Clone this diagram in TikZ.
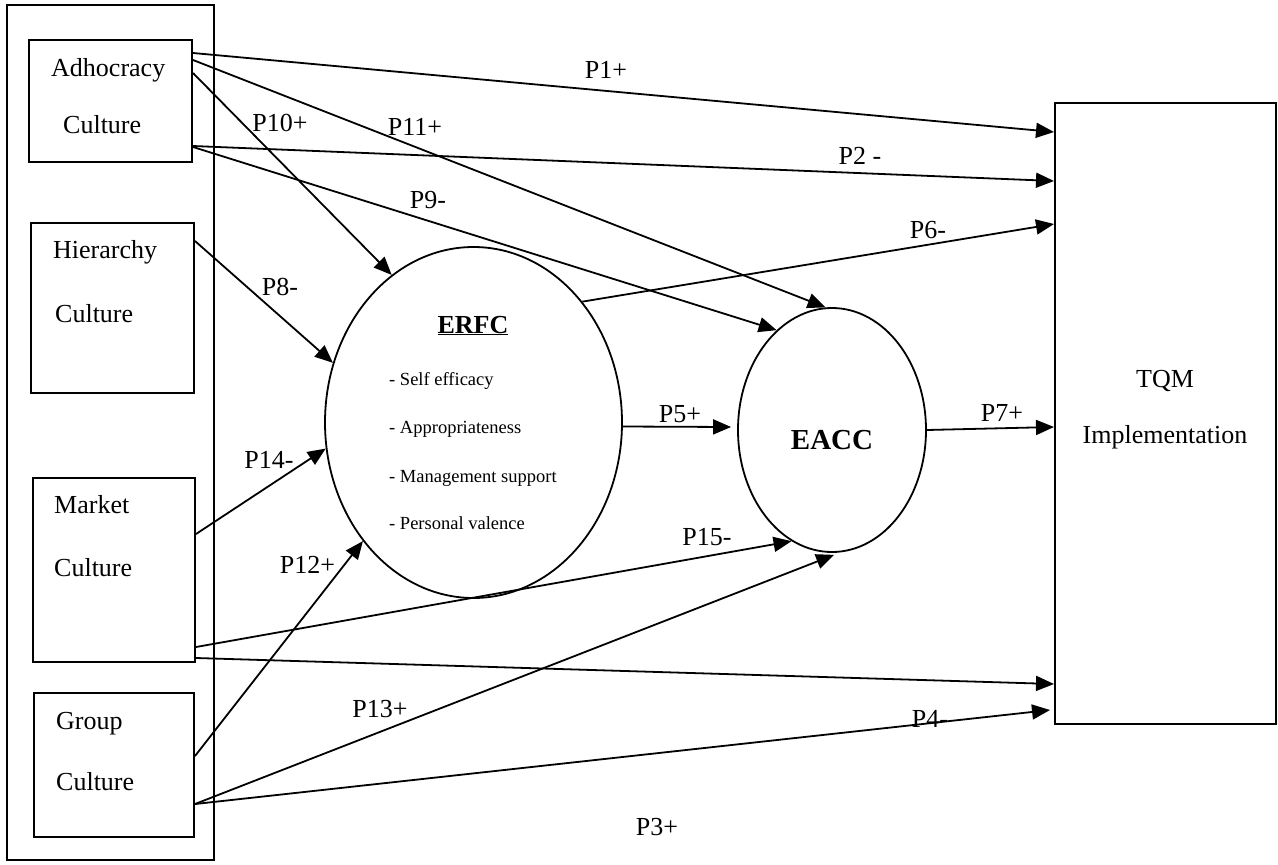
\documentclass[tikz,border=0pt]{standalone}
\usepackage{fontspec}
\setmainfont{Liberation Serif}
\usetikzlibrary{arrows.meta,shapes.geometric}
\begin{document}
\begin{tikzpicture}[x=1pt,y=-1pt,
  box/.style={draw, line width=2pt, inner sep=0pt, rectangle},
  oval/.style={draw, line width=1.8pt, ellipse, inner sep=0pt},
  arr/.style={line width=1.8pt, -{Triangle[length=18pt,width=15pt]}},
  lbl/.style={font=\fontsize{26}{30}\selectfont, anchor=base, inner sep=0pt},
  lblw/.style={lbl, anchor=base west},
  item/.style={font=\fontsize{18.5}{22}\selectfont, anchor=base west, inner sep=0pt}]
\useasboundingbox (0,0) rectangle (1278,865);

% containers and boxes
\node[box, minimum width=207pt, minimum height=855pt] (outer) at (110.5,432.5) {};
\node[box, minimum width=163pt, minimum height=122pt] (adh) at (110.5,101) {};
\node[box, minimum width=163pt, minimum height=170pt] (hier) at (112.5,308) {};
\node[box, minimum width=162pt, minimum height=184pt] (mkt) at (114,570) {};
\node[box, minimum width=160pt, minimum height=144pt] (grp) at (114,765) {};
\node[box, minimum width=221pt, minimum height=621pt] (tqm) at (1165.5,413.5) {};
\node[oval, minimum width=297pt, minimum height=351pt] (erfc) at (473.5,422.5) {};
\node[oval, minimum width=188pt, minimum height=244pt] (eacc) at (832,430) {};

% box texts
\node[lblw] (t1) at (51,76) {Adhocracy};
\node[lblw] (t2) at (63,133) {Culture};
\node[lblw] (t3) at (53,258) {Hierarchy};
\node[lblw] (t4) at (55,322) {Culture};
\node[lblw] (t5) at (54,513) {Market};
\node[lblw] (t6) at (54,576) {Culture};
\node[lblw] (t7) at (56,729) {Group};
\node[lblw] (t8) at (56,790) {Culture};
\node[lbl] (t9) at (1165,387) {TQM};
\node[lbl] (t10) at (1165,443) {Implementation};

% ellipse texts
\node[lbl, font=\fontsize{26}{30}\selectfont\bfseries] (t11) at (473,333) {\underline{ERFC}};
\node[item] (i1) at (389,385) {- Self efficacy};
\node[item] (i2) at (389,433) {- Appropriateness};
\node[item] (i3) at (389,482) {- Management support};
\node[item] (i4) at (389,529) {- Personal valence};
\node[lbl, font=\fontsize{29}{33}\selectfont\bfseries] (t12) at (832,449) {EACC};

% connectors
\draw[arr] ([yshift=-14pt]adh.north east) -- ([yshift=-30pt]tqm.north west);
\draw[arr] ([yshift=-21pt]adh.north east) -- (eacc.93);
\draw[arr] ([yshift=-34pt]adh.north east) -- (erfc.119.6);
\draw[arr] ([yshift=-107pt]adh.north east) -- ([yshift=-79pt]tqm.north west);
\draw[arr] ([yshift=-108pt]adh.north east) -- (eacc.119.7);
\draw[arr] ([yshift=-19pt]hier.north east) -- (erfc.157.1);
\draw[arr] (erfc.48.3) -- ([yshift=-122pt]tqm.north west);
\draw[arr] ([yshift=-4pt]erfc.east) -- ([xshift=-6pt,yshift=3pt]eacc.west);
\draw[arr] (eacc.east) -- ([yshift=-325pt]tqm.north west);
\draw[arr] ([yshift=-57pt]mkt.north east) -- (erfc.190.5);
\draw[arr] ([yshift=-170pt]mkt.north east) -- (eacc.250.5);
\draw[arr] ([yshift=-181pt]mkt.north east) -- ([yshift=-582pt]tqm.north west);
\draw[arr] ([yshift=-64pt]grp.north east) -- (erfc.227.2);
\draw[arr] ([yshift=-112pt]grp.north east) -- ([yshift=-2pt]eacc.271.4);
\draw[arr] ([yshift=-112pt]grp.north east) -- ([xshift=-4pt,yshift=-608pt]tqm.north west);

% connector labels
\node[lbl] (p1) at (606,78) {P1+};
\node[lbl] (p11) at (415,135) {P11+};
\node[lbl] (p10) at (280,131) {P10+};
\node[lbl] (p9) at (428,208) {P9-};
\node[lbl] (p2) at (860,164) {P2 -};
\node[lbl] (p6) at (928,238) {P6-};
\node[lbl] (p8) at (280,295) {P8-};
\node[lbl] (p5) at (680,422) {P5+};
\node[lbl] (p7) at (1002,421) {P7+};
\node[lbl] (p14) at (269,468) {P14-};
\node[lbl] (p12) at (307.5,573) {P12+};
\node[lbl] (p15) at (707,545) {P15-};
\node[lbl] (p13) at (380,717) {P13+};
\node[lbl] (p4) at (930,727) {P4-};
\node[lbl] (p3) at (657,835) {P3+};
\end{tikzpicture}
\end{document}
